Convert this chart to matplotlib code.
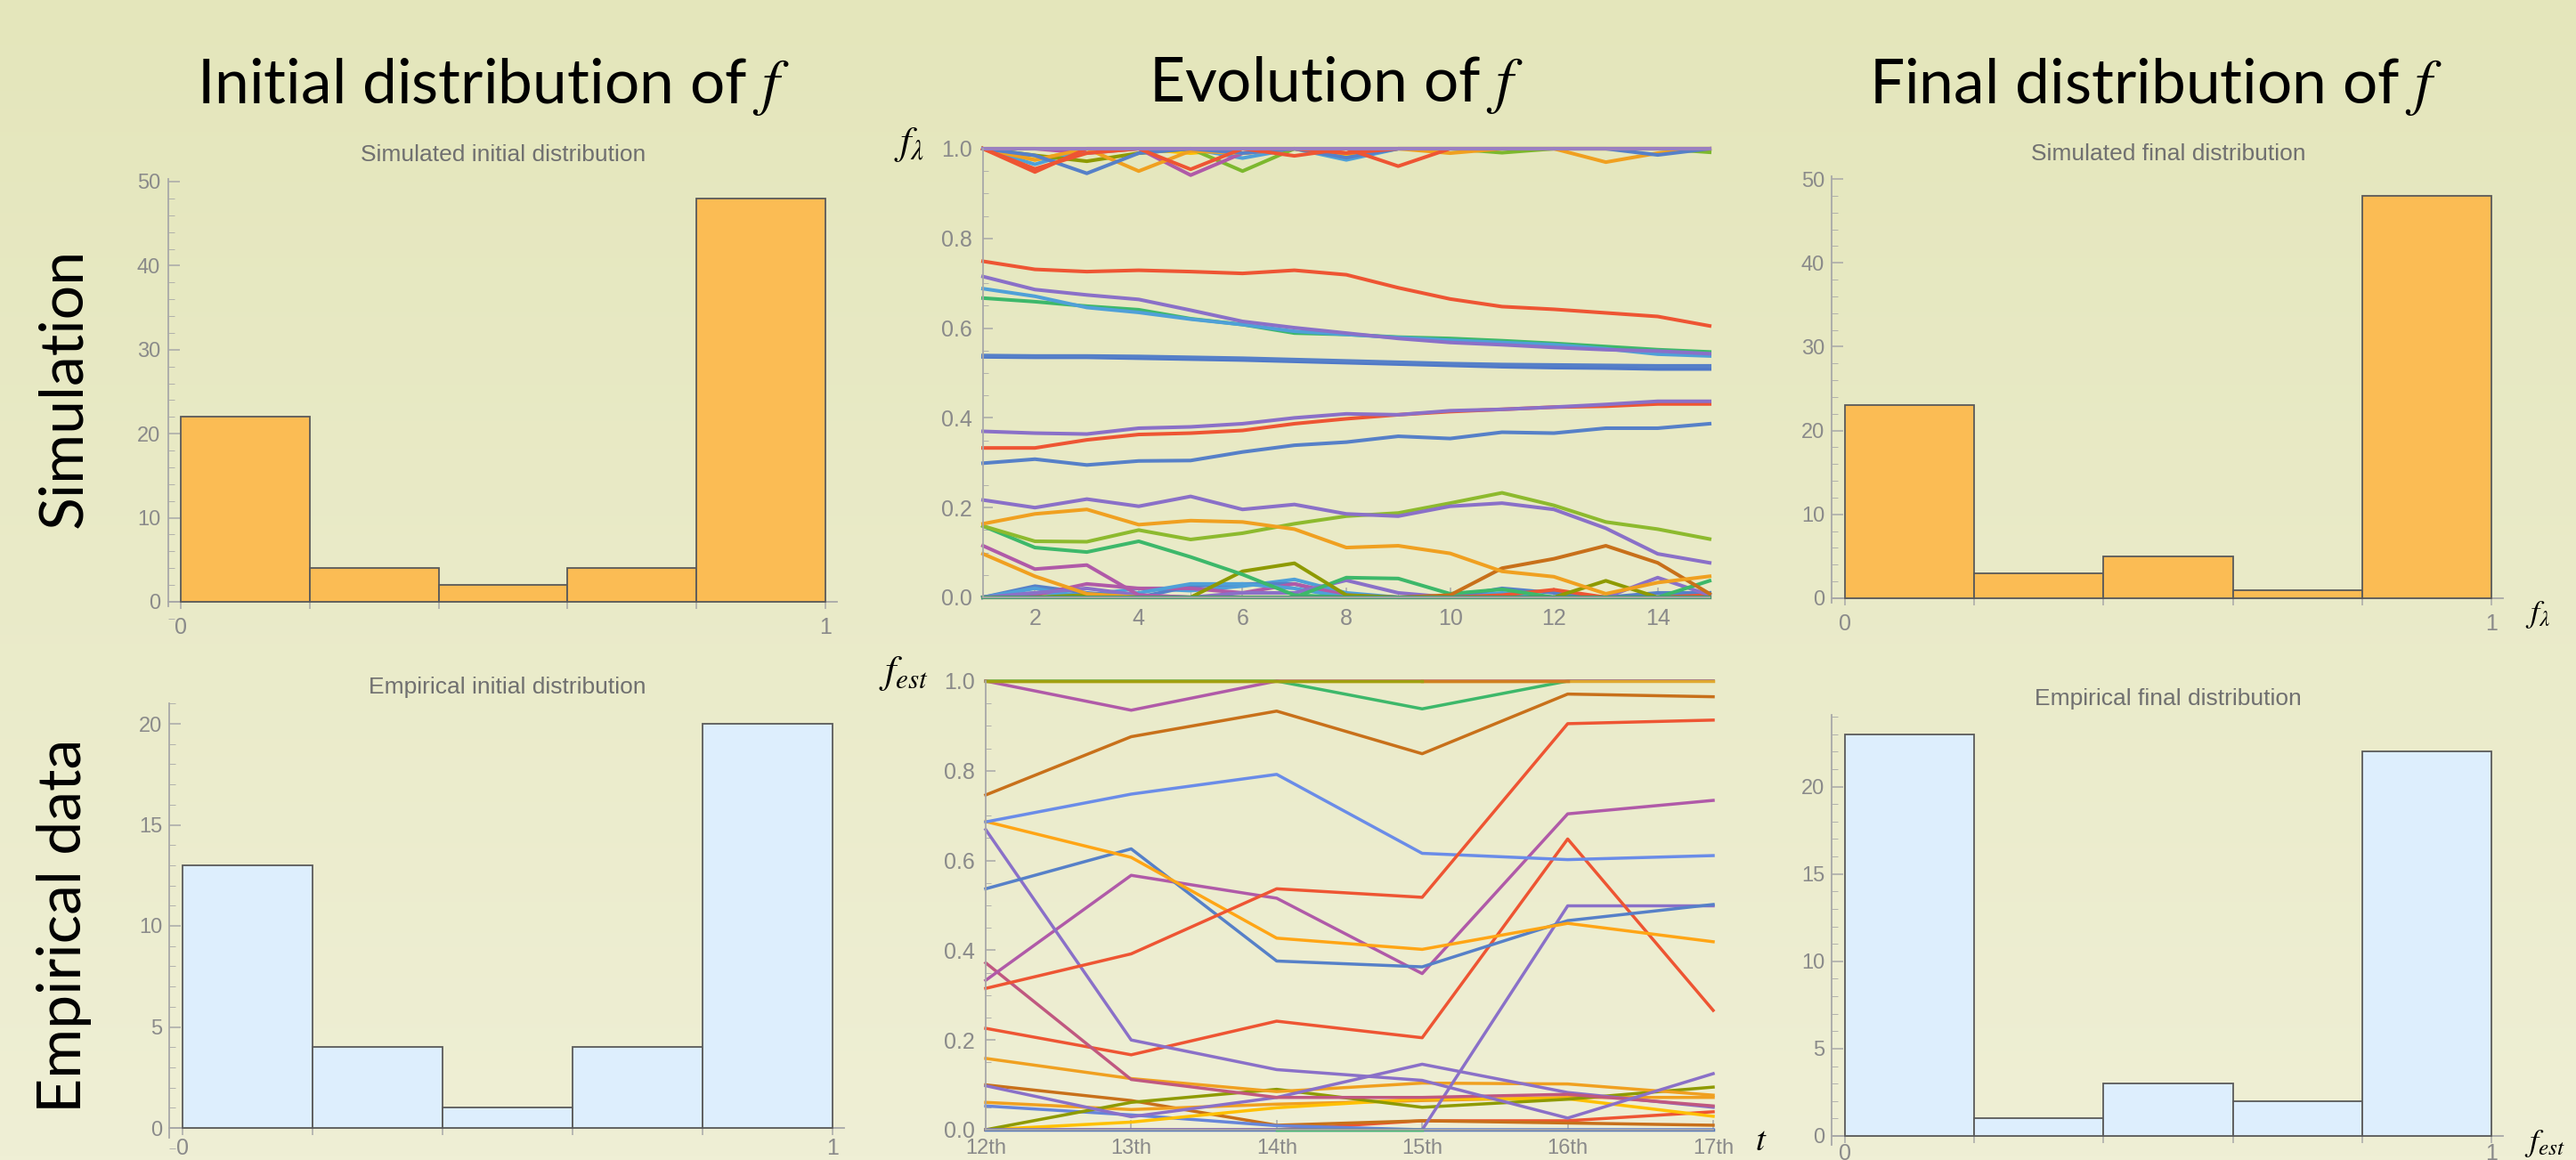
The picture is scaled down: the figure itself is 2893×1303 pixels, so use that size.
import matplotlib
matplotlib.use("Agg")
import numpy as np
import matplotlib.pyplot as plt
from matplotlib.ticker import MultipleLocator, FixedLocator

W, H = 2893, 1303
DPI = 100

# histogram data
BIN_EDGES = [0.0, 0.2, 0.4, 0.6, 0.8, 1.0]
sim_initial_counts = [22, 4, 2, 4, 48]
emp_initial_counts = [13, 4, 1, 4, 20]
sim_final_counts = [23, 3, 5, 1, 48]
emp_final_counts = [23, 1, 3, 2, 22]

# simulated evolution, steps 1..15
sim_steps = list(range(1, 16))
sim_red_a = [.749, .731, .726, .729, .726, .722, .729, .719, .690, .665, .648, .642, .634, .626, .605]
sim_purple_a = [.715, .686, .674, .664, .640, .615, .601, .589, .577, .568, .563, .557, .552, .549, .543]
sim_ltblue_a = [.688, .671, .646, .635, .620, .608, .593, .586, .579, .573, .568, .563, .554, .542, .538]
sim_green_a = [.667, .659, .649, .641, .621, .608, .589, .586, .580, .577, .572, .566, .559, .552, .547]
sim_blue_a = [.539, .538, .538, .537, .535, .533, .530, .527, .524, .521, .519, .518, .517, .516, .516]
sim_blue_b = [.536, .535, .535, .533, .531, .529, .526, .523, .520, .517, .514, .512, .511, .509, .509]
sim_purple_b = [.370, .366, .364, .377, .380, .387, .400, .409, .407, .416, .419, .424, .430, .437, .437]
sim_red_b = [.333, .333, .351, .363, .366, .372, .387, .398, .407, .414, .419, .424, .426, .431, .431]
sim_blue_c = [.299, .308, .295, .304, .305, .324, .339, .346, .359, .354, .368, .366, .377, .377, .387]
sim_purple_c = [.217, .200, .219, .203, .225, .196, .207, .186, .181, .203, .210, .196, .154, .097, .077]
sim_orange_a = [.164, .186, .196, .162, .171, .168, .152, .111, .115, .098, .058, .046, .008, .033, .047]
sim_ygreen_a = [.159, .125, .124, .150, .129, .143, .164, .181, .188, .210, .233, .205, .168, .152, .130]
sim_green_b = [.159, .111, .101, .125, .090, .051, .005, 0, 0, 0, 0, 0, 0, 0, 0]
sim_magenta_a = [.115, .063, .072, .005, 0, 0, 0, 0, 0, 0, 0, 0, 0, 0, 0]
sim_orange_b = [.097, .047, .008, 0, 0, 0, 0, 0, 0, 0, 0, 0, 0, 0, 0]
sim_olive_a = [0, 0, .005, 0, 0, .058, .076, .005, 0, 0, 0, 0, 0, 0, 0]
sim_brown_a = [0, 0, 0, 0, 0, 0, 0, 0, 0, .005, .065, .086, .115, .077, .008]
sim_green_c = [0, 0, 0, 0, 0, 0, 0, .044, .042, .008, .018, 0, 0, 0, .037]
sim_olive_b = [0, 0, 0, 0, 0, 0, 0, 0, 0, 0, 0, 0, .037, 0, 0]
sim_purple_d = [0, .01, .02, .005, 0, .01, .01, .038, .01, 0, 0, 0, 0, .044, .005]
sim_blue_d = [0, .025, .01, 0, .025, .03, .03, 0, 0, 0, .02, .01, 0, .01, .01]
sim_ltblue_b = [0, .02, 0, .01, .03, .03, .02, 0, 0, 0, 0, 0, 0, 0, 0]
sim_magenta_b = [0, .005, .03, .02, .02, .01, .03, .005, 0, 0, 0, 0, 0, 0, 0]
sim_red_c = [0, 0, 0, 0, 0, 0, 0, 0, 0, 0, .005, .017, 0, 0, .005]
sim_ltblue_c = [0, .01, .005, .02, .015, .025, .04, .01, 0, 0, .01, 0, 0, 0, .01]
# lines that stay near 1
sim_red_hi_a = [1, .948, 1, 1, 1, 1, 1, .99, 1, 1, 1, 1, 1, 1, 1]
sim_red_hi_b = [1, .955, .99, 1, .954, 1, .984, 1, .961, 1, 1, 1, 1, 1, 1]
sim_blue_hi = [1, .985, .945, .99, 1, .99, 1, .98, 1, 1, 1, 1, 1, .986, 1]
sim_orange_hi = [1, .975, 1, .95, .995, .99, 1, .99, 1, .99, 1, 1, .97, .99, 1]
sim_magenta_hi = [1, 1, .99, 1, .941, .99, 1, 1, 1, 1, 1, 1, 1, 1, 1]
sim_green_hi = [1, 1, 1, 1, 1, .95, 1, 1, 1, 1, .991, 1, 1, 1, .992]
sim_olive_hi = [1, .985, .972, .99, 1, 1, 1, 1, 1, 1, 1, 1, 1, 1, 1]
sim_ltblue_hi = [1, .965, 1, 1, 1, .979, 1, .975, 1, 1, 1, 1, 1, 1, 1]
sim_yellow_hi = [1, .975, 1, 1, .99, 1, 1, .985, 1, 1, 1, 1, 1, 1, 1]
sim_purple_hi = [1] * 15
sim_brown_hi = [1] * 15
sim_green_lo = [0] * 15
sim_purple_lo = [0] * 15

# empirical evolution, days 12th..17th
emp_days = [12, 13, 14, 15, 16, 17]
emp_day_labels = ["12th", "13th", "14th", "15th", "16th", "17th"]
nan = float("nan")
emp_orange_top = [1, 1, 1, 1, 1, 1]
emp_brown_top = [nan, nan, nan, 1, 1, nan]
emp_olive_top = [1, 1, 1, 1, nan, nan]
emp_purple_a = [1, .935, 1, 1, 1, 1]
emp_green_a = [1, 1, 1, .938, 1, 1]
emp_brown_a = [.746, .876, .933, .838, .971, .965]
emp_red_a = [.315, .392, .537, .518, .905, .913]
emp_ltblue_a = [.686, .748, .792, .616, .602, .611]
emp_orange_a = [.687, .607, .427, .402, .460, .419]
emp_blue_a = [.537, .626, .376, .363, .466, .502]
emp_purple_b = [.669, .200, .134, .110, .026, .125]
emp_magenta_a = [.333, .567, .516, .348, .704, .734]
emp_pink_a = [.372, .112, .072, .072, .079, .053]
emp_red_b = [.226, .167, .242, .205, .648, .266]
emp_purple_c = [0, 0, 0, 0, .499, .499]
emp_purple_d = [.098, .029, .072, .146, .083, .050]
emp_orange_b = [.159, .114, .085, .104, .102, .077]
emp_olive_a = [0, .061, .090, .050, .068, .095]
emp_yellow_a = [0, .017, .049, .069, .069, .030]
emp_orange_c = [.061, .045, .057, .065, .072, .072]
emp_blue_b = [.053, .033, .009, 0, 0, 0]
emp_brown_b = [.100, .065, .010, .020, .015, .010]
emp_red_c = [0, 0, 0, .020, .020, .040]
emp_blue_lo = [0, 0, 0, 0, 0, 0]
emp_green_lo = [nan, nan, 0, 0, nan, nan]

RED = "#EE5533"
BLUE = "#5680C8"
PURPLE = "#8A70C8"
GREEN = "#3DB86A"
LTBLUE = "#4FA0D8"
ORANGE = "#F0A020"
YGREEN = "#8DBA2E"
MAGENTA = "#B05AA8"
BROWN = "#C8701A"
OLIVE = "#8E9A00"
YELLOW = "#FFC000"
PINK = "#C05880"

sim_series = [
    (sim_ltblue_c, LTBLUE), (sim_blue_d, BLUE), (sim_magenta_b, MAGENTA), (sim_ltblue_b, LTBLUE),
    (sim_red_c, RED), (sim_purple_d, PURPLE), (sim_olive_b, OLIVE), (sim_green_c, GREEN),
    (sim_brown_a, BROWN), (sim_olive_a, OLIVE), (sim_orange_b, ORANGE), (sim_magenta_a, MAGENTA),
    (sim_green_b, GREEN), (sim_ygreen_a, YGREEN), (sim_orange_a, ORANGE), (sim_purple_c, PURPLE),
    (sim_blue_c, BLUE), (sim_red_b, RED), (sim_purple_b, PURPLE), (sim_blue_b, "#4F78C8"),
    (sim_blue_a, BLUE), (sim_green_a, GREEN), (sim_ltblue_a, LTBLUE), (sim_purple_a, PURPLE),
    (sim_red_a, RED),
    (sim_yellow_hi, YELLOW), (sim_ltblue_hi, LTBLUE), (sim_olive_hi, OLIVE), (sim_green_hi, "#7CB82E"),
    (sim_magenta_hi, MAGENTA), (sim_orange_hi, ORANGE), (sim_blue_hi, BLUE), (sim_red_hi_b, RED),
    (sim_red_hi_a, RED), (sim_brown_hi, "#C08A60"), (sim_purple_hi, "#9A80C0"),
    (sim_purple_lo, PURPLE), (sim_green_lo, "#4C9A70"),
]

emp_series = [
    (emp_red_c, RED), (emp_brown_b, BROWN), (emp_blue_b, "#6685D9"), (emp_orange_c, ORANGE),
    (emp_yellow_a, YELLOW), (emp_olive_a, OLIVE), (emp_orange_b, ORANGE), (emp_purple_d, PURPLE),
    (emp_purple_c, PURPLE), (emp_red_b, RED), (emp_pink_a, PINK), (emp_magenta_a, MAGENTA),
    (emp_purple_b, PURPLE), (emp_blue_a, BLUE), (emp_orange_a, "#FFA515"), (emp_ltblue_a, "#6A8CE8"),
    (emp_red_a, RED), (emp_brown_a, BROWN), (emp_green_a, GREEN), (emp_purple_a, MAGENTA),
    (emp_orange_top, "#E0A830"), (emp_brown_top, "#D08020"), (emp_olive_top, "#A0A010"),
    (emp_blue_lo, "#5878B8"), (emp_green_lo, GREEN),
]

plt.rcParams["mathtext.fontset"] = "stix"
TICK_FONT = ["Liberation Sans", "DejaVu Sans"]
AXIS_COLOR = "#a8a8a8"
LABEL_COLOR = "#8a8a8a"

fig = plt.figure(figsize=(W / DPI, H / DPI), dpi=DPI)

# background gradient
bg = fig.add_axes([0, 0, 1, 1], zorder=-10)
top_c = np.array([228, 230, 187]) / 255
bot_c = np.array([239, 239, 213]) / 255
t = np.linspace(0, 1, 256)[:, None]
grad = top_c[None, :] * (1 - t) + bot_c[None, :] * t
bg.imshow(grad[:, None, :], aspect="auto", extent=[0, 1, 0, 1])
bg.axis("off")


def fig_text(xp, yp, s, **kw):
    return fig.text(xp / W, 1 - yp / H, s, **kw)


def px_axes(box, xref, yref):
    left, top, right, bottom = box
    ax = fig.add_axes([left / W, 1 - bottom / H, (right - left) / W, (bottom - top) / H])
    v0, p0, v1, p1 = xref
    sx = (v1 - v0) / (p1 - p0)
    ax.set_xlim(v0 + (left - p0) * sx, v0 + (right - p0) * sx)
    w0, q0, w1, q1 = yref
    sy = (w1 - w0) / (q1 - q0)
    ax.set_ylim(w0 + (bottom - q0) * sy, w0 + (top - q0) * sy)
    ax.patch.set_alpha(0)
    return ax


def style_axes(ax, x_at, y_at, xspan, yspan):
    ax.spines["top"].set_visible(False)
    ax.spines["right"].set_visible(False)
    ax.spines["left"].set_position(("data", x_at))
    ax.spines["bottom"].set_position(("data", y_at))
    ax.spines["left"].set_bounds(*yspan)
    ax.spines["bottom"].set_bounds(*xspan)
    for sp in ("left", "bottom"):
        ax.spines[sp].set_color(AXIS_COLOR)
        ax.spines[sp].set_linewidth(1.3)
    ax.tick_params(colors=AXIS_COLOR, labelcolor=LABEL_COLOR, width=1.1)
    for lab in ax.get_xticklabels() + ax.get_yticklabels():
        lab.set_family(TICK_FONT)


def histogram(box, xref, yref, counts, color, title, title_y, ymaj, ymin, ytop, xpad):
    ax = px_axes(box, xref, yref)
    ax.bar(BIN_EDGES[:-1], counts, width=0.2, align="edge", color=color,
           edgecolor="#5a5a5a", linewidth=1.3, zorder=3)
    ax.xaxis.set_major_locator(FixedLocator(BIN_EDGES))
    ax.set_xticklabels(["0", "", "", "", "", "1"])
    ax.yaxis.set_major_locator(MultipleLocator(ymaj))
    ax.yaxis.set_minor_locator(MultipleLocator(ymin))
    ax.tick_params(axis="x", direction="out", length=6, pad=xpad, labelsize=18)
    ax.tick_params(axis="y", which="major", direction="in", length=9, pad=6, labelsize=17)
    ax.tick_params(axis="y", which="minor", direction="in", length=5, color=AXIS_COLOR)
    style_axes(ax, -0.02, 0, (-0.02, 1.018), (-0.5, ytop))
    xc = (xref[1] + xref[3]) / 2
    fig_text(xc, title_y, title, ha="center", va="center", fontsize=19,
             color="#707070", family=TICK_FONT)
    return ax


ORANGE_FILL = "#FBBC54"
BLUE_FILL = "#DDEEFD"

histogram((180, 190, 950, 695), (0, 203, 1, 927), (0, 676, 50, 204),
          sim_initial_counts, ORANGE_FILL, "Simulated initial distribution", 174, 10, 2, 50.3, 6)
histogram((180, 780, 950, 1290), (0, 205, 1, 935), (0, 1267, 20, 813),
          emp_initial_counts, BLUE_FILL, "Empirical initial distribution", 772, 5, 1, 21.0, 2)
histogram((2045, 185, 2830, 690), (0, 2072, 1, 2798), (0, 672, 50, 201),
          sim_final_counts, ORANGE_FILL, "Simulated final distribution", 173, 10, 2, 50.3, 6)
histogram((2045, 790, 2830, 1295), (0, 2072, 1, 2798), (0, 1276, 20, 883.5),
          emp_final_counts, BLUE_FILL, "Empirical final distribution", 785, 5, 1, 24.1, 0)

# evolution, simulation
ax = px_axes((1090, 155, 1935, 685), (1, 1104, 15, 1920), (0, 671, 1, 167))
for ys, c in sim_series:
    ax.plot(sim_steps, ys, color=c, lw=2.9, clip_on=False, zorder=2)
ax.xaxis.set_major_locator(FixedLocator([2, 4, 6, 8, 10, 12, 14]))
ax.xaxis.set_minor_locator(MultipleLocator(1))
ax.yaxis.set_major_locator(MultipleLocator(0.2))
ax.yaxis.set_minor_locator(MultipleLocator(0.05))
ax.yaxis.set_major_formatter("{x:.1f}")
ax.tick_params(axis="both", which="major", direction="in", length=8, pad=9, labelsize=18)
ax.tick_params(axis="both", which="minor", direction="in", length=4, color=AXIS_COLOR)
style_axes(ax, 1, 0, (1, 15), (0, 1.0))

# evolution, empirical
ax = px_axes((1090, 750, 1940, 1280), (12, 1107, 17, 1924), (0, 1269, 1, 765))
for ys, c in emp_series:
    ax.plot(emp_days, ys, color=c, lw=2.5, clip_on=False, zorder=2)
ax.xaxis.set_major_locator(FixedLocator(emp_days))
ax.set_xticklabels(emp_day_labels)
ax.yaxis.set_major_locator(MultipleLocator(0.2))
ax.yaxis.set_minor_locator(MultipleLocator(0.05))
ax.yaxis.set_major_formatter("{x:.1f}")
ax.tick_params(axis="y", which="major", direction="in", length=8, pad=9, labelsize=18)
ax.tick_params(axis="x", which="major", direction="in", length=8, pad=7, labelsize=17)
ax.tick_params(axis="y", which="minor", direction="in", length=4, color=AXIS_COLOR)
style_axes(ax, 12, 0, (12, 17), (0, 1.0))
for lab in ax.get_yticklabels():
    lab.set_verticalalignment("center_baseline")

# headers and row labels
HEAD_FONT = ["Lato", "DejaVu Sans"]
fig_text(554, 97, "Initial distribution of $f$", ha="center", va="center", fontsize=50, family=HEAD_FONT)
fig_text(1501, 95, "Evolution of $f$", ha="center", va="center", fontsize=50, family=HEAD_FONT)
fig_text(2421, 97, "Final distribution of $f$", ha="center", va="center", fontsize=50, family=HEAD_FONT)
fig_text(72, 436, "Simulation", ha="center", va="center", rotation=90, fontsize=49, family=HEAD_FONT)
fig_text(72, 1040, "Empirical data", ha="center", va="center", rotation=90, fontsize=49, family=HEAD_FONT)

# variable labels
fig_text(1021, 162, r"$f_\lambda$", ha="center", va="center", fontsize=32)
fig_text(1015, 757, r"$f_{est}$", ha="center", va="center", fontsize=32)
fig_text(2850, 690, r"$f_\lambda$", ha="center", va="center", fontsize=26)
fig_text(2858, 1284, r"$f_{est}$", ha="center", va="center", fontsize=26)
fig_text(1978, 1281, r"$t$", ha="center", va="center", fontsize=28)

fig.savefig("out.png", dpi=DPI)
